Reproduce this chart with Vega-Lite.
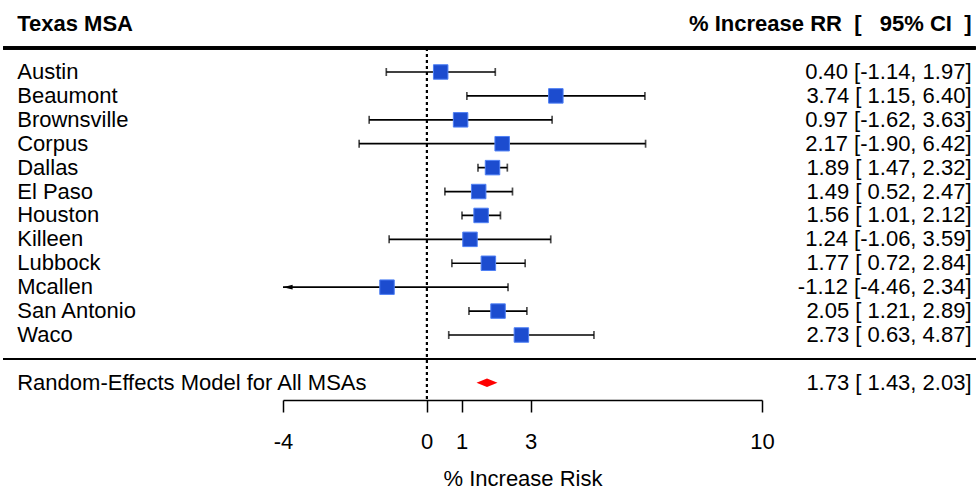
{
  "$schema": "https://vega.github.io/schema/vega-lite/v6.json",
  "width": 479,
  "height": 400,
  "autosize": {"type": "none"},
  "padding": {"left": 283, "top": 0, "right": 217, "bottom": 91},
  "background": "white",
  "config": {"view": {"stroke": null}, "font": "Liberation Sans"},
  "datasets": {
    "msa": [
      {"msa": "Austin", "row": 12, "est": 1.0040, "lo": 0.9886, "hi": 1.0197, "ci": "0.40 [-1.14, 1.97]", "kind": "study"},
      {"msa": "Beaumont", "row": 11, "est": 1.0374, "lo": 1.0115, "hi": 1.0640, "ci": "3.74 [ 1.15, 6.40]", "kind": "study"},
      {"msa": "Brownsville", "row": 10, "est": 1.0097, "lo": 0.9838, "hi": 1.0363, "ci": "0.97 [-1.62, 3.63]", "kind": "study"},
      {"msa": "Corpus", "row": 9, "est": 1.0217, "lo": 0.9810, "hi": 1.0642, "ci": "2.17 [-1.90, 6.42]", "kind": "study"},
      {"msa": "Dallas", "row": 8, "est": 1.0189, "lo": 1.0147, "hi": 1.0232, "ci": "1.89 [ 1.47, 2.32]", "kind": "study"},
      {"msa": "El Paso", "row": 7, "est": 1.0149, "lo": 1.0052, "hi": 1.0247, "ci": "1.49 [ 0.52, 2.47]", "kind": "study"},
      {"msa": "Houston", "row": 6, "est": 1.0156, "lo": 1.0101, "hi": 1.0212, "ci": "1.56 [ 1.01, 2.12]", "kind": "study"},
      {"msa": "Killeen", "row": 5, "est": 1.0124, "lo": 0.9894, "hi": 1.0359, "ci": "1.24 [-1.06, 3.59]", "kind": "study"},
      {"msa": "Lubbock", "row": 4, "est": 1.0177, "lo": 1.0072, "hi": 1.0284, "ci": "1.77 [ 0.72, 2.84]", "kind": "study"},
      {"msa": "Mcallen", "row": 3, "est": 0.9888, "lo": 0.9554, "hi": 1.0234, "ci": "-1.12 [-4.46, 2.34]", "kind": "study"},
      {"msa": "San Antonio", "row": 2, "est": 1.0205, "lo": 1.0121, "hi": 1.0289, "ci": "2.05 [ 1.21, 2.89]", "kind": "study"},
      {"msa": "Waco", "row": 1, "est": 1.0273, "lo": 1.0063, "hi": 1.0487, "ci": "2.73 [ 0.63, 4.87]", "kind": "study"},
      {"msa": "Random-Effects Model for All MSAs", "row": -1, "est": 1.0173, "lo": 1.0143, "hi": 1.0203, "ci": "1.73 [ 1.43, 2.03]", "kind": "summary"}
    ],
    "header": [
      {"left": "Texas MSA", "right": "% Increase RR\u00a0 [\u00a0\u00a0 95% CI\u00a0 ]", "row": 14}
    ]
  },
  "data": {"name": "msa"},
  "resolve": {"scale": {"x": "independent"}},
  "layer": [
    {
      "mark": {"type": "rule", "color": "black", "strokeWidth": 1.3, "strokeDash": [3, 3]},
      "encoding": {
        "x": {"datum": 1, "type": "quantitative",
          "scale": {"type": "log", "domain": [0.96, 1.1], "nice": false, "zero": false},
          "axis": {
            "orient": "bottom",
            "values": [0.96, 1, 1.01, 1.03, 1.1],
            "labelExpr": "'' + round((datum.value - 1) * 100)",
            "title": "% Increase Risk",
            "grid": false,
            "domainColor": "black", "domainWidth": 1.5,
            "tickColor": "black", "tickWidth": 1.5, "tickSize": 12,
            "labelFont": "Liberation Sans", "labelFontSize": 22, "labelColor": "black",
            "labelPadding": 19, "labelFlush": false, "labelOverlap": false,
            "titleFont": "Liberation Sans", "titleFontSize": 22, "titleFontWeight": "normal",
            "titleColor": "black", "titlePadding": 16
          }},
        "y": {"datum": 13, "type": "quantitative", "scale": {"domain": [-1.719, 15.011], "nice": false, "zero": false}, "axis": null},
        "y2": {"datum": -1.719}
      }
    },
    {
      "mark": {"type": "rule", "color": "black", "strokeWidth": 2.5},
      "encoding": {
        "x": {"datum": 0.88662, "type": "quantitative", "scale": {"type": "log", "domain": [0.96, 1.1], "nice": false, "zero": false}, "axis": null},
        "x2": {"datum": 1.16883},
        "y": {"datum": 13, "type": "quantitative", "scale": {"domain": [-1.719, 15.011], "nice": false, "zero": false}, "axis": null}
      }
    },
    {
      "mark": {"type": "rule", "color": "black", "strokeWidth": 1.5},
      "encoding": {
        "x": {"datum": 0.88662, "type": "quantitative", "scale": {"type": "log", "domain": [0.96, 1.1], "nice": false, "zero": false}, "axis": null},
        "x2": {"datum": 1.16883},
        "y": {"datum": 0, "type": "quantitative", "scale": {"domain": [-1.719, 15.011], "nice": false, "zero": false}, "axis": null}
      }
    },
    {
      "transform": [{"filter": "datum.kind === 'study'"}],
      "mark": {"type": "rule", "color": "black", "strokeWidth": 1.7},
      "encoding": {
        "x": {"field": "lo", "type": "quantitative", "scale": {"type": "log", "domain": [0.96, 1.1], "nice": false, "zero": false, "clamp": true}, "axis": null},
        "x2": {"field": "hi"},
        "y": {"field": "row", "type": "quantitative", "scale": {"domain": [-1.719, 15.011], "nice": false, "zero": false}, "axis": null}
      }
    },
    {
      "transform": [{"filter": "datum.kind === 'study' && datum.lo >= 0.96"}],
      "mark": {"type": "tick", "orient": "vertical", "color": "black", "size": 8, "thickness": 1.7},
      "encoding": {
        "x": {"field": "lo", "type": "quantitative", "scale": {"type": "log", "domain": [0.96, 1.1], "nice": false, "zero": false}, "axis": null},
        "y": {"field": "row", "type": "quantitative", "scale": {"domain": [-1.719, 15.011], "nice": false, "zero": false}, "axis": null}
      }
    },
    {
      "transform": [{"filter": "datum.kind === 'study'"}],
      "mark": {"type": "tick", "orient": "vertical", "color": "black", "size": 8, "thickness": 1.7},
      "encoding": {
        "x": {"field": "hi", "type": "quantitative", "scale": {"type": "log", "domain": [0.96, 1.1], "nice": false, "zero": false}, "axis": null},
        "y": {"field": "row", "type": "quantitative", "scale": {"domain": [-1.719, 15.011], "nice": false, "zero": false}, "axis": null}
      }
    },
    {
      "transform": [{"filter": "datum.kind === 'study' && datum.lo < 0.96"}],
      "mark": {"type": "point", "shape": "M0,0L2.4,-0.6L2.4,0.6Z", "size": 64, "filled": true, "color": "black", "opacity": 1},
      "encoding": {
        "x": {"field": "lo", "type": "quantitative", "scale": {"type": "log", "domain": [0.96, 1.1], "nice": false, "zero": false, "clamp": true}, "axis": null},
        "y": {"field": "row", "type": "quantitative", "scale": {"domain": [-1.719, 15.011], "nice": false, "zero": false}, "axis": null}
      }
    },
    {
      "transform": [{"filter": "datum.kind === 'study'"}],
      "mark": {"type": "point", "shape": "square", "size": 210, "filled": true, "fill": "#1c4ccf", "stroke": "#4f80f5", "strokeWidth": 1, "opacity": 1},
      "encoding": {
        "x": {"field": "est", "type": "quantitative", "scale": {"type": "log", "domain": [0.96, 1.1], "nice": false, "zero": false}, "axis": null},
        "y": {"field": "row", "type": "quantitative", "scale": {"domain": [-1.719, 15.011], "nice": false, "zero": false}, "axis": null}
      }
    },
    {
      "transform": [{"filter": "datum.kind === 'summary'"}],
      "mark": {"type": "point", "shape": "M-1,0L0,-0.4L1,0L0,0.4Z", "size": 441, "filled": true, "color": "#ff0000", "opacity": 1},
      "encoding": {
        "x": {"field": "est", "type": "quantitative", "scale": {"type": "log", "domain": [0.96, 1.1], "nice": false, "zero": false}, "axis": null},
        "y": {"field": "row", "type": "quantitative", "scale": {"domain": [-1.719, 15.011], "nice": false, "zero": false}, "axis": null}
      }
    },
    {
      "mark": {"type": "text", "align": "left", "baseline": "middle", "fontSize": 22, "font": "Liberation Sans", "color": "black"},
      "encoding": {
        "x": {"datum": 0.89016, "type": "quantitative", "scale": {"type": "log", "domain": [0.96, 1.1], "nice": false, "zero": false}, "axis": null},
        "y": {"field": "row", "type": "quantitative", "scale": {"domain": [-1.719, 15.011], "nice": false, "zero": false}, "axis": null},
        "text": {"field": "msa"}
      }
    },
    {
      "mark": {"type": "text", "align": "right", "baseline": "middle", "fontSize": 22, "font": "Liberation Sans", "color": "black"},
      "encoding": {
        "x": {"datum": 1.16749, "type": "quantitative", "scale": {"type": "log", "domain": [0.96, 1.1], "nice": false, "zero": false}, "axis": null},
        "y": {"field": "row", "type": "quantitative", "scale": {"domain": [-1.719, 15.011], "nice": false, "zero": false}, "axis": null},
        "text": {"field": "ci"}
      }
    },
    {
      "data": {"name": "header"},
      "mark": {"type": "text", "align": "left", "baseline": "middle", "fontSize": 22, "fontWeight": "bold", "font": "Liberation Sans", "color": "black"},
      "encoding": {
        "x": {"datum": 0.89016, "type": "quantitative", "scale": {"type": "log", "domain": [0.96, 1.1], "nice": false, "zero": false}, "axis": null},
        "y": {"field": "row", "type": "quantitative", "scale": {"domain": [-1.719, 15.011], "nice": false, "zero": false}, "axis": null},
        "text": {"field": "left"}
      }
    },
    {
      "data": {"name": "header"},
      "mark": {"type": "text", "align": "right", "baseline": "middle", "fontSize": 22, "fontWeight": "bold", "font": "Liberation Sans", "color": "black"},
      "encoding": {
        "x": {"datum": 1.16749, "type": "quantitative", "scale": {"type": "log", "domain": [0.96, 1.1], "nice": false, "zero": false}, "axis": null},
        "y": {"field": "row", "type": "quantitative", "scale": {"domain": [-1.719, 15.011], "nice": false, "zero": false}, "axis": null},
        "text": {"field": "right"}
      }
    }
  ]
}
